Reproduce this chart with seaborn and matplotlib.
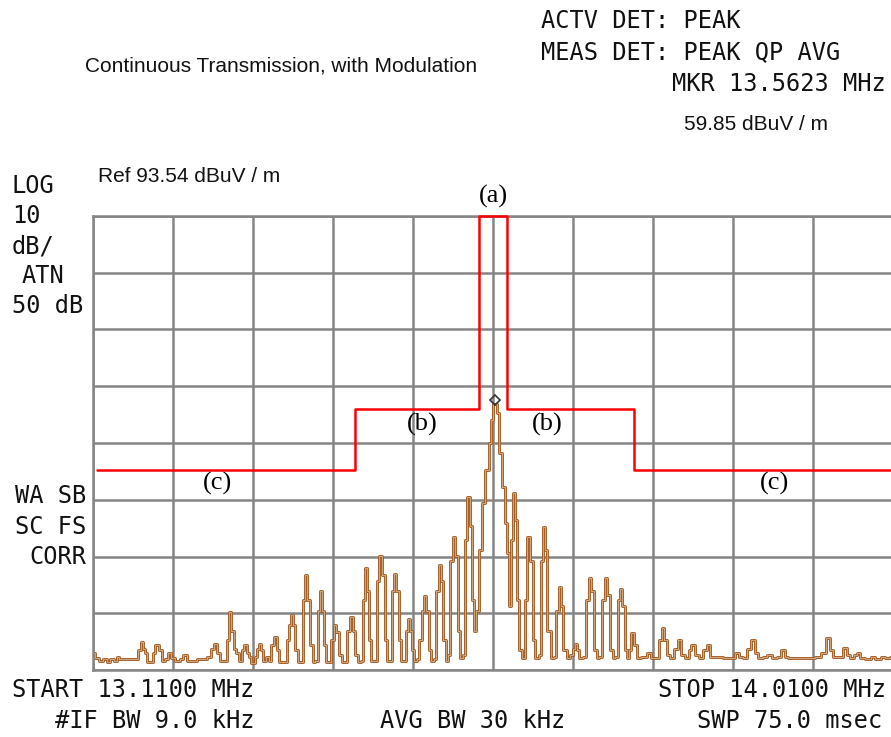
import matplotlib
matplotlib.use("Agg")
import matplotlib.pyplot as plt
import seaborn as sns
import pandas as pd

# ---------------- data ----------------
START_MHZ = 13.11
STOP_MHZ = 14.01
REF_LEVEL = 93.54          # dBuV/m, top of screen
DB_PER_DIV = 10
N_XDIV = 10
N_YDIV = 8

MARKER_FREQ = 13.5623
MARKER_LEVEL = 59.85

# measured spectrum trace (MHz, dBuV/m)
trace_freq = [
    13.1100, 13.1145, 13.1190, 13.1235, 13.1269, 13.1314, 13.1348, 13.1381, 13.1415, 13.1584,
    13.1618, 13.1651, 13.1674, 13.1696, 13.1719, 13.1753, 13.1786, 13.1820, 13.1854, 13.1888,
    13.1921, 13.1966, 13.2000, 13.2056, 13.2101, 13.2135, 13.2169, 13.2360, 13.2416, 13.2450,
    13.2473, 13.2506, 13.2551, 13.2585, 13.2619, 13.2641, 13.2664, 13.2698, 13.2720, 13.2754,
    13.2788, 13.2810, 13.2844, 13.2866, 13.2900, 13.2934, 13.2956, 13.2979, 13.3001, 13.3035,
    13.3058, 13.3091, 13.3125, 13.3148, 13.3181, 13.3215, 13.3260, 13.3294, 13.3316, 13.3339,
    13.3361, 13.3395, 13.3418, 13.3451, 13.3474, 13.3496, 13.3519, 13.3553, 13.3586, 13.3620,
    13.3643, 13.3665, 13.3688, 13.3710, 13.3733, 13.3766, 13.3800, 13.3823, 13.3845, 13.3879,
    13.3913, 13.3946, 13.3969, 13.4003, 13.4036, 13.4059, 13.4093, 13.4126, 13.4149, 13.4171,
    13.4194, 13.4216, 13.4250, 13.4284, 13.4306, 13.4340, 13.4363, 13.4396, 13.4419, 13.4453,
    13.4475, 13.4498, 13.4520, 13.4554, 13.4576, 13.4610, 13.4633, 13.4655, 13.4678, 13.4700,
    13.4723, 13.4756, 13.4790, 13.4813, 13.4835, 13.4858, 13.4891, 13.4914, 13.4948, 13.4970,
    13.5004, 13.5026, 13.5060, 13.5083, 13.5105, 13.5128, 13.5161, 13.5184, 13.5218, 13.5240,
    13.5274, 13.5296, 13.5330, 13.5353, 13.5375, 13.5398, 13.5420, 13.5454, 13.5488, 13.5533,
    13.5566, 13.5589, 13.5611, 13.5634, 13.5656, 13.5679, 13.5713, 13.5746, 13.5769, 13.5791,
    13.5814, 13.5836, 13.5859, 13.5881, 13.5904, 13.5938, 13.5971, 13.6005, 13.6028, 13.6061,
    13.6095, 13.6129, 13.6151, 13.6174, 13.6196, 13.6230, 13.6264, 13.6298, 13.6320, 13.6354,
    13.6376, 13.6410, 13.6444, 13.6478, 13.6511, 13.6534, 13.6556, 13.6590, 13.6624, 13.6658,
    13.6691, 13.6714, 13.6748, 13.6781, 13.6815, 13.6838, 13.6871, 13.6894, 13.6928, 13.6961,
    13.6995, 13.7018, 13.7040, 13.7063, 13.7096, 13.7119, 13.7141, 13.7175, 13.7198, 13.7231,
    13.7299, 13.7366, 13.7400, 13.7445, 13.7479, 13.7513, 13.7535, 13.7569, 13.7614, 13.7659,
    13.7693, 13.7738, 13.7783, 13.7816, 13.7850, 13.7895, 13.7940, 13.7985, 13.8019, 13.8064,
    13.8300, 13.8356, 13.8390, 13.8435, 13.8491, 13.8525, 13.8559, 13.8604, 13.8660, 13.8716,
    13.8761, 13.8818, 13.8863, 13.8896, 13.8941, 13.9189, 13.9256, 13.9324, 13.9369, 13.9403,
    13.9448, 13.9504, 13.9560, 13.9594, 13.9639, 13.9673, 13.9706, 13.9751, 13.9819, 13.9875,
    13.9931, 13.9988, 14.0033, 14.0100,
]
trace_level = [
    16.6, 15.6, 15.2, 15.4, 15.0, 15.4, 15.2, 15.8, 15.4, 15.4,
    17.0, 18.4, 17.3, 16.5, 15.0, 15.0, 16.6, 17.9, 17.0, 15.2,
    15.4, 16.6, 15.6, 15.2, 15.4, 16.1, 15.2, 15.4, 15.8, 17.3,
    18.2, 16.6, 15.2, 15.2, 18.8, 23.7, 20.5, 17.3, 16.6, 15.2,
    17.0, 17.9, 16.6, 15.8, 14.7, 15.8, 17.3, 18.2, 17.0, 15.2,
    15.8, 15.2, 17.9, 19.3, 17.0, 15.0, 15.0, 18.8, 21.4, 23.2,
    21.4, 17.0, 15.0, 15.0, 25.8, 30.2, 25.8, 17.9, 15.0, 15.2,
    24.0, 27.4, 24.0, 17.9, 15.0, 15.0, 18.8, 21.4, 20.2, 16.1,
    15.0, 15.0, 20.5, 22.8, 20.5, 16.1, 15.0, 15.2, 25.8, 31.6,
    27.5, 18.8, 15.2, 15.2, 29.3, 33.7, 30.2, 18.8, 15.2, 15.2,
    27.5, 30.5, 27.5, 18.8, 15.2, 15.2, 20.5, 22.6, 20.5, 17.0,
    15.2, 15.4, 18.8, 24.0, 26.5, 24.0, 17.0, 15.2, 15.4, 27.5,
    32.1, 29.3, 18.8, 15.2, 16.1, 32.8, 36.9, 33.7, 20.5, 15.6,
    16.1, 36.4, 44.0, 39.0, 25.8, 20.5, 24.0, 34.6, 42.9, 48.7,
    53.5, 57.6, 60.4, 60.4, 58.8, 51.7, 45.7, 39.4, 34.1, 24.9,
    36.4, 44.7, 39.9, 25.8, 17.0, 15.6, 25.8, 36.9, 32.8, 18.8,
    15.6, 16.1, 32.8, 38.7, 34.6, 20.5, 15.6, 15.8, 24.0, 28.1,
    24.9, 17.0, 15.6, 16.1, 17.3, 18.2, 17.0, 15.6, 15.8, 25.8,
    29.8, 27.5, 17.0, 15.6, 15.8, 25.8, 29.7, 26.7, 17.0, 15.6,
    15.8, 25.8, 27.9, 24.9, 17.0, 15.6, 17.0, 20.0, 17.9, 15.6,
    15.8, 16.6, 15.6, 15.6, 18.8, 20.9, 18.8, 16.1, 15.6, 17.3,
    18.8, 16.1, 15.6, 17.0, 17.9, 16.1, 15.6, 17.0, 17.9, 15.8,
    15.6, 16.6, 15.8, 15.6, 17.3, 18.8, 16.6, 15.6, 15.8, 16.1,
    15.6, 15.9, 17.0, 15.9, 15.6, 15.6, 15.8, 16.6, 19.1, 17.0,
    15.8, 15.9, 17.5, 16.1, 15.6, 16.1, 16.5, 15.6, 15.4, 15.8,
    15.4, 15.8, 15.6, 15.8,
]

# emission limit mask (steps-post)
limit_freq = [13.1145, 13.405, 13.544, 13.576, 13.719, 14.03]
limit_level = [48.8, 59.45, 93.54, 59.45, 48.8, 48.8]

# region labels
region_labels = ["(a)", "(b)", "(b)", "(c)", "(c)"]
region_freq = [13.5603, 13.4800, 13.6206, 13.2496, 13.8766]
region_level = [96.9, 56.8, 56.8, 46.4, 46.4]

# ---------------- figure ----------------
W, H = 891, 737
sns.set_style("white")
plt.rcParams["font.family"] = ["DejaVu Sans"]

fig = plt.figure(figsize=(W / 100, H / 100), dpi=100)
ax = fig.add_axes([93 / W, 67 / H, 800 / W, 454 / H])

grid_col = "#858585"
xdiv = (STOP_MHZ - START_MHZ) / N_XDIV
bottom = REF_LEVEL - N_YDIV * DB_PER_DIV
ax.set_xlim(START_MHZ, STOP_MHZ)
ax.set_ylim(bottom, REF_LEVEL)
ax.set_xticks([START_MHZ + k * xdiv for k in range(N_XDIV + 1)])
ax.set_yticks([bottom + k * DB_PER_DIV for k in range(N_YDIV + 1)])
ax.tick_params(length=0, labelbottom=False, labelleft=False)
ax.grid(True, color=grid_col, linewidth=1.8)
ax.set_axisbelow(True)
for s in ax.spines.values():
    s.set_color(grid_col)
    s.set_linewidth(1.8)

df = pd.DataFrame({"freq": trace_freq, "level": trace_level})
sns.lineplot(data=df, x="freq", y="level", ax=ax, color="#A45E26",
             linewidth=2.1, drawstyle="steps-mid", estimator=None, sort=False)
sns.lineplot(data=df, x="freq", y="level", ax=ax, color="#E6C6A4",
             linewidth=0.5, drawstyle="steps-mid", estimator=None, sort=False)

dl = pd.DataFrame({"freq": limit_freq, "level": limit_level})
sns.lineplot(data=dl, x="freq", y="level", ax=ax, color="#FF0000",
             linewidth=1.8, drawstyle="steps-post", estimator=None, sort=False)
ax.lines[-1].set_clip_on(False)
ax.lines[-1].set_zorder(4)

ax.plot([MARKER_FREQ], [MARKER_LEVEL + 1.2], marker="D", ms=5, mfc="none",
        mec="#333333", mew=1.2, linestyle="none", clip_on=False, zorder=5)

for lab, f, l in zip(region_labels, region_freq, region_level):
    ax.text(f, l, lab, ha="center", va="center", fontsize=19,
            family=["Liberation Serif"], color="black", clip_on=False)

ax.set_xlabel("")
ax.set_ylabel("")

# ---------------- annotations (instrument text) ----------------
mono = dict(family=["DejaVu Sans Mono"], fontsize=17, color="#111111")
sans = dict(family=["Liberation Sans"], color="#111111")

def ft(x, y, s, ha="left", **kw):
    fig.text(x / W, 1 - y / H, s, ha=ha, va="center", **kw)

ft(541, 21, "ACTV DET: PEAK", **mono)
ft(541, 52, "MEAS DET: PEAK QP AVG", **mono)
ft(886, 84, "MKR 13.5623 MHz", ha="right", **mono)
ft(756, 124, "59.85 dBuV / m", ha="center", fontsize=15, **sans)
ft(281, 66, "Continuous Transmission, with Modulation", ha="center", fontsize=15, **sans)
ft(98, 176, "Ref 93.54 dBuV / m", fontsize=15, **sans)

ft(12, 186, "LOG", **mono)
ft(12, 216, "10", **mono)
ft(12, 246, "dB/", **mono)
ft(22, 276, "ATN", **mono)
ft(12, 306, "50 dB", **mono)
ft(86, 496, "WA SB", ha="right", **mono)
ft(86, 527, "SC FS", ha="right", **mono)
ft(86, 557, "CORR", ha="right", **mono)

ft(12, 690, "START 13.1100 MHz", **mono)
ft(886, 690, "STOP 14.0100 MHz", ha="right", **mono)
ft(55, 721, "#IF BW 9.0 kHz", **mono)
ft(380, 721, "AVG BW 30 kHz", **mono)
ft(697, 721, "SWP 75.0 msec", **mono)

fig.savefig("out.png", dpi=100)
